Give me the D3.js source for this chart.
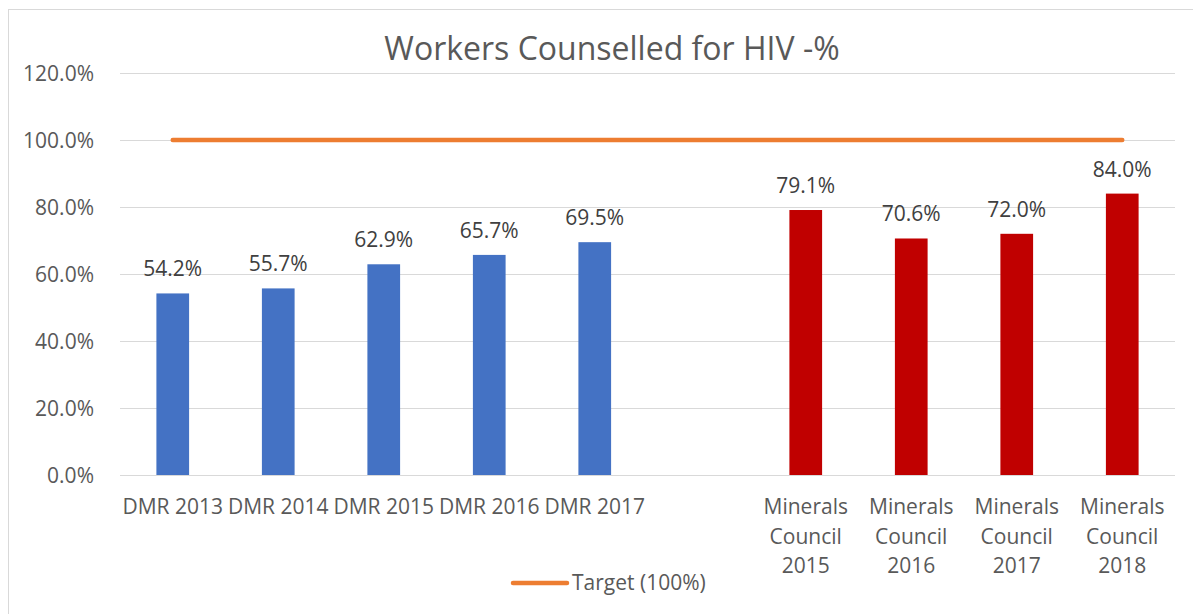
<!DOCTYPE html>
<html>
<head>
<meta charset="utf-8">
<script src="https://cdn.jsdelivr.net/npm/d3@7"></script>
<style>
  html, body { margin: 0; padding: 0; background: #fff; }
  svg { display: block; font-family: 'Open Sans', sans-serif; }
</style>
</head>
<body>
<div id="chart"></div>
<script>
// ── DATA ──────────────────────────────────────────────────────────────────
const categories = [
  'DMR 2013', 'DMR 2014', 'DMR 2015', 'DMR 2016', 'DMR 2017', '',
  'Minerals Council 2015', 'Minerals Council 2016', 'Minerals Council 2017', 'Minerals Council 2018'
];
const dmrValues = [54.2, 55.7, 62.9, 65.7, 69.5, null, null, null, null, null];
const mcValues  = [null, null, null, null, null, null, 79.1, 70.6, 72.0, 84.0];
const targetValues = [100, 100, 100, 100, 100, 100, 100, 100, 100, 100];
const yTicks = [0, 20, 40, 60, 80, 100, 120];

// ── CHART ─────────────────────────────────────────────────────────────────
const W = 1193, H = 614;
const m = { left: 120, right: 18, top: 73, bottom: 139 };
const FS = '21px';

const svg = d3.select('#chart').append('svg').attr('width', W).attr('height', H);

// chart area border (only left/top visible in the frame)
svg.append('rect').attr('x', 8.5).attr('y', 9.5).attr('width', 1300).attr('height', 800)
  .attr('fill', '#fff').attr('stroke', '#D9D9D9').attr('stroke-width', 1);

const x = d3.scaleBand().domain(d3.range(categories.length))
  .range([m.left, W - m.right]).padding(0);
const y = d3.scaleLinear().domain([0, 120]).range([H - m.bottom, m.top]);
const barW = x.bandwidth() * 0.31;
const cx = i => x(i) + x.bandwidth() / 2;

// Title
svg.append('text').attr('x', 612).attr('y', 60).attr('text-anchor', 'middle')
  .attr('fill', '#595959').attr('font-size', '32px').text('Workers Counselled for HIV -%');

// Gridlines
svg.append('g').selectAll('line').data(yTicks).enter().append('line')
  .attr('x1', m.left).attr('x2', W - m.right)
  .attr('y1', d => Math.round(y(d)) + 0.5).attr('y2', d => Math.round(y(d)) + 0.5)
  .attr('stroke', '#D9D9D9').attr('stroke-width', 1.2);

// Y axis labels
const yAxis = svg.append('g').attr('transform', `translate(${m.left - 23},0)`)
  .call(d3.axisLeft(y).tickValues(yTicks).tickSize(0).tickFormat(d => d.toFixed(1) + '%'));
yAxis.select('.domain').remove();
yAxis.selectAll('text').attr('fill', '#595959').attr('font-size', FS)
  .attr('font-family', 'Open Sans, sans-serif').attr('dy', '0.35em');

// Bars
function drawBars(vals, color) {
  const data = vals.map((v, i) => ({ v, i })).filter(d => d.v !== null);
  svg.append('g').selectAll('rect').data(data).enter().append('rect')
    .attr('x', d => cx(d.i) - barW / 2).attr('width', barW)
    .attr('y', d => y(d.v)).attr('height', d => y(0) - y(d.v))
    .attr('fill', color);
  svg.append('g').selectAll('text').data(data).enter().append('text')
    .attr('x', d => cx(d.i)).attr('y', d => y(d.v) - 17)
    .attr('text-anchor', 'middle').attr('fill', '#404040').attr('font-size', FS)
    .text(d => d.v.toFixed(1) + '%');
}
drawBars(dmrValues, '#4472C4');
drawBars(mcValues, '#C00000');

// Target line
const line = d3.line().x((d, i) => cx(i)).y(d => y(d));
svg.append('path').datum(targetValues).attr('d', line)
  .attr('fill', 'none').attr('stroke', '#ED7D31').attr('stroke-width', 4.5)
  .attr('stroke-linecap', 'round');

// Category labels
categories.forEach((c, i) => {
  if (!c) return;
  const lines = c.startsWith('Minerals') ? ['Minerals', 'Council', c.split(' ')[2]] : [c];
  const t = svg.append('text').attr('x', cx(i)).attr('y', 514)
    .attr('text-anchor', 'middle').attr('fill', '#595959').attr('font-size', FS);
  lines.forEach((l, k) => {
    t.append('tspan').attr('x', cx(i)).attr('dy', k === 0 ? 0 : 29.5).text(l);
  });
});

// Legend
const lg = svg.append('g');
lg.append('line').attr('x1', 513).attr('x2', 567).attr('y1', 583).attr('y2', 583)
  .attr('stroke', '#ED7D31').attr('stroke-width', 4.5).attr('stroke-linecap', 'round');
lg.append('text').attr('x', 572).attr('y', 590).attr('fill', '#595959')
  .attr('font-size', FS).text('Target (100%)');
</script>
</body>
</html>
